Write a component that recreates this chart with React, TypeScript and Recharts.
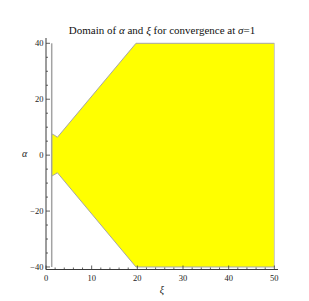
import { Area, ComposedChart, Label, ReferenceLine, XAxis, YAxis } from "recharts"

// boundary of the convergence region
const xi = [1.25, 1.7, 2.5, 19.7, 50]
const alphaUpper = [7.6, 7.3, 6.4, 40, 40]
const alphaLower = [-7.5, -7.1, -6.3, -40, -40]

const leftEdgeXi = 1.25
const rightEdgeXi = 50
const edgeAlpha = [-40, 40]

const xTicks = [0, 2, 4, 6, 8, 10, 12, 14, 16, 18, 20, 22, 24, 26, 28, 30, 32, 34, 36, 38, 40, 42, 44, 46, 48, 50]
const xLabels = [0, 10, 20, 30, 40, 50]
const yTicks = [-40, -35, -30, -25, -20, -15, -10, -5, 0, 5, 10, 15, 20, 25, 30, 35, 40]
const yLabels = [-40, -20, 0, 20, 40]

const data = xi.map((x, i) => ({ xi: x, range: [alphaLower[i], alphaUpper[i]] }))

const serif = "'Liberation Serif', 'DejaVu Serif', serif"
const frame = "#3a3a3a"

function fmt(v: number) {
  return v < 0 ? "\u2212" + Math.abs(v) : String(v)
}

function FrameTick(props: any) {
  const { x, y, payload, side, labels } = props
  const v = payload.value
  const major = labels.includes(v)
  const len = major ? 4 : 2
  if (side === "bottom") {
    return (
      <g>
        <line x1={x} y1={y} x2={x} y2={y - len} stroke={frame} strokeWidth={0.8} />
        {major && (
          <text x={x} y={y + 11} textAnchor="middle" fontSize={8.5} fontFamily={serif} fill="#222">
            {fmt(v)}
          </text>
        )}
      </g>
    )
  }
  if (side === "top") {
    return <line x1={x} y1={y} x2={x} y2={y + len} stroke={frame} strokeWidth={0.8} />
  }
  if (side === "left") {
    return (
      <g>
        <line x1={x} y1={y} x2={x + len} y2={y} stroke={frame} strokeWidth={0.8} />
        {major && (
          <text x={x - 2.5} y={y + 3} textAnchor="end" fontSize={8.5} fontFamily={serif} fill="#222">
            {fmt(v)}
          </text>
        )}
      </g>
    )
  }
  return <line x1={x} y1={y} x2={x - len} y2={y} stroke={frame} strokeWidth={0.8} />
}

export default function App() {
  return (
    <div style={{ position: "absolute", left: 0, top: 0, width: 309, height: 301, background: "#fff" }}>
      <div
        style={{
          position: "absolute",
          left: 46,
          width: 232,
          top: 24,
          textAlign: "center",
          fontFamily: serif,
          fontSize: 11,
          lineHeight: "13px",
          color: "#111",
          whiteSpace: "nowrap",
        }}
      >
        Domain of <i>α</i> and <i>ξ</i> for convergence at <i>σ</i>=1
      </div>
      <ComposedChart width={309} height={301} data={data} margin={{ top: 38, right: 31, bottom: 0, left: 10 }}>
        <XAxis
          xAxisId="b"
          dataKey="xi"
          type="number"
          domain={[0, 50.8]}
          ticks={xTicks}
          interval={0}
          orientation="bottom"
          height={31.5}
          tickSize={0}
          tickMargin={0}
          tickLine={false}
          axisLine={{ stroke: frame }}
          tick={(p: any) => <FrameTick {...p} side="bottom" labels={xLabels} />}
        >
          <Label value="ξ" position="insideBottom" offset={8} fontFamily={serif} fontStyle="italic" fontSize={10} fill="#222" />
        </XAxis>
        <XAxis
          xAxisId="t"
          dataKey="xi"
          type="number"
          domain={[0, 50.8]}
          ticks={xTicks}
          interval={0}
          orientation="top"
          height={0}
          tickSize={0}
          tickMargin={0}
          tickLine={false}
          axisLine={{ stroke: frame }}
          tick={(p: any) => <FrameTick {...p} side="top" labels={xLabels} />}
        />
        <YAxis
          yAxisId="l"
          type="number"
          domain={[-40.9, 41.9]}
          ticks={yTicks}
          interval={0}
          orientation="left"
          width={36}
          tickSize={0}
          tickMargin={0}
          tickLine={false}
          axisLine={{ stroke: frame }}
          tick={(p: any) => <FrameTick {...p} side="left" labels={yLabels} />}
        >
          <Label value="α" position="insideLeft" offset={12} fontFamily={serif} fontStyle="italic" fontSize={10} fill="#222" />
        </YAxis>
        <YAxis
          yAxisId="r"
          type="number"
          domain={[-40.9, 41.9]}
          ticks={yTicks}
          interval={0}
          orientation="right"
          width={0}
          tickSize={0}
          tickMargin={0}
          tickLine={false}
          axisLine={{ stroke: frame }}
          tick={(p: any) => <FrameTick {...p} side="right" labels={yLabels} />}
        />
        <Area
          xAxisId="b"
          yAxisId="l"
          dataKey="range"
          type="linear"
          fill="#ffff00"
          fillOpacity={1}
          stroke="#a6a6a6"
          strokeWidth={1}
          isAnimationActive={false}
        />
        <ReferenceLine
          xAxisId="b"
          yAxisId="l"
          segment={[
            { x: leftEdgeXi, y: edgeAlpha[0] },
            { x: leftEdgeXi, y: edgeAlpha[1] },
          ]}
          stroke="#a3a3a3"
          strokeWidth={1.5}
        />
        <ReferenceLine
          xAxisId="b"
          yAxisId="l"
          segment={[
            { x: rightEdgeXi, y: edgeAlpha[0] },
            { x: rightEdgeXi, y: edgeAlpha[1] },
          ]}
          stroke="#c8c8c8"
          strokeWidth={1}
        />
      </ComposedChart>
    </div>
  )
}
